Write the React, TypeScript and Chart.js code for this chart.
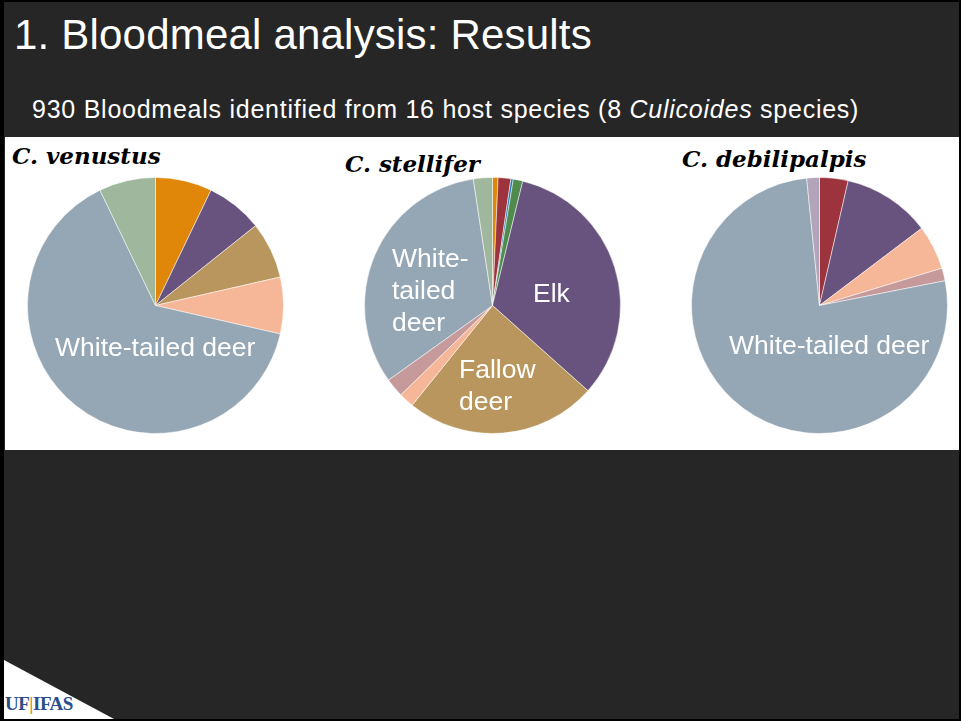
import React, { useEffect, useRef } from "react";
import { Chart, registerables } from "chart.js";

Chart.register(...registerables);

// Host colours shared by all three pies
const hostColors: Record<string, string> = {
  "Host A": "#E0870A",
  Elk: "#67537E",
  "Fallow deer": "#B9965E",
  "Host B": "#F5B797",
  "White-tailed deer": "#95A6B5",
  "Host C": "#9FB79C",
  "Host D": "#9D333C",
  "Host E": "#2A7AB8",
  "Host F": "#4F8B4D",
  "Host G": "#C69A9B",
  "Host H": "#B3A5B9",
};

// C. venustus
const venustusHosts = ["Host A", "Elk", "Fallow deer", "Host B", "White-tailed deer", "Host C"];
const venustusValues = [1, 1, 1, 1, 9, 1];

// C. stellifer
const stelliferHosts = [
  "Host A", "Host D", "Host E", "Host F", "Elk",
  "Fallow deer", "Host B", "Host G", "White-tailed deer", "Host C",
];
const stelliferValues = [0.7, 1.6, 0.3, 1.2, 32.8, 24.2, 1.9, 2.4, 32.5, 2.4];

// C. debilipalpis
const debilipalpisHosts = ["Host D", "Elk", "Host B", "Host G", "White-tailed deer", "Host H"];
const debilipalpisValues = [3.6, 11.1, 5.6, 1.6, 76.5, 1.6];

const SANS = "'Liberation Sans', Arial, sans-serif";
const SERIF = "'DejaVu Serif', serif";

type PieProps = {
  hosts: string[];
  values: number[];
  left: number;
  top: number;
  size: number;
};

function HostPie({ hosts, values, left, top, size }: PieProps) {
  const ref = useRef<HTMLCanvasElement | null>(null);

  useEffect(() => {
    if (!ref.current) return;
    const chart = new Chart(ref.current, {
      type: "pie",
      data: {
        labels: hosts,
        datasets: [
          {
            data: values,
            backgroundColor: hosts.map((h) => hostColors[h]),
            borderColor: "rgba(255,255,255,0.5)",
            borderWidth: 1,
          },
        ],
      },
      options: {
        responsive: false,
        animation: false,
        devicePixelRatio: 1,
        layout: { padding: 0 },
        plugins: {
          legend: { display: false },
          tooltip: { enabled: false },
          title: { display: false },
        },
      },
    });
    return () => chart.destroy();
  }, [hosts, values]);

  return (
    <canvas
      ref={ref}
      width={size}
      height={size}
      style={{ position: "absolute", left, top, width: size, height: size }}
    />
  );
}

const pieLabel: React.CSSProperties = {
  position: "absolute",
  color: "#ffffff",
  fontFamily: SANS,
  fontSize: 26.5,
  lineHeight: "32px",
  whiteSpace: "nowrap",
};

const speciesTitle: React.CSSProperties = {
  position: "absolute",
  color: "#000000",
  fontFamily: SERIF,
  fontWeight: "bold",
  fontStyle: "italic",
  fontSize: 23,
  lineHeight: "26px",
  whiteSpace: "nowrap",
};

export default function App() {
  return (
    <div
      style={{
        position: "fixed",
        left: 0,
        top: 0,
        width: 961,
        height: 721,
        background: "#000000",
        overflow: "hidden",
      }}
    >
      <div
        style={{
          position: "absolute",
          left: 4,
          top: 2,
          width: 955,
          height: 717,
          background: "#262626",
          overflow: "hidden",
        }}
      >
        <div
          style={{
            position: "absolute",
            left: 10,
            top: 9,
            color: "#ffffff",
            fontFamily: SANS,
            fontSize: 42,
            letterSpacing: 0.2,
            lineHeight: "48px",
            whiteSpace: "nowrap",
          }}
        >
          1. Bloodmeal analysis: Results
        </div>
        <div
          style={{
            position: "absolute",
            left: 28,
            top: 93,
            color: "#ffffff",
            fontFamily: SANS,
            fontSize: 25,
            letterSpacing: 0.75,
            lineHeight: "28px",
            whiteSpace: "nowrap",
          }}
        >
          930 Bloodmeals identified from 16 host species (8 <i>Culicoides</i> species)
        </div>

        {/* white panel holding the pies */}
        <div
          style={{
            position: "absolute",
            left: 1,
            top: 135,
            width: 954,
            height: 313,
            background: "#ffffff",
          }}
        />

        {/* logo corner */}
        <div
          style={{
            position: "absolute",
            left: 0,
            top: 658,
            width: 0,
            height: 0,
            borderLeft: "110px solid #ffffff",
            borderTop: "59px solid transparent",
          }}
        />
        <div
          style={{
            position: "absolute",
            left: 1,
            top: 692,
            fontFamily: "'Liberation Serif', serif",
            fontWeight: "bold",
            fontSize: 19,
            lineHeight: "20px",
            color: "#2A4D8C",
            whiteSpace: "nowrap",
            letterSpacing: -0.5,
          }}
        >
          UF<span style={{ color: "#E08A2C" }}>|</span>IFAS
        </div>
      </div>

      <HostPie hosts={venustusHosts} values={venustusValues} left={27} top={177} size={257} />
      <HostPie hosts={stelliferHosts} values={stelliferValues} left={364} top={177} size={257} />
      <HostPie hosts={debilipalpisHosts} values={debilipalpisValues} left={691} top={177} size={257} />

      <div style={{ ...speciesTitle, left: 12, top: 143 }}>C. venustus</div>
      <div style={{ ...speciesTitle, left: 345, top: 151 }}>C. stellifer</div>
      <div style={{ ...speciesTitle, left: 682, top: 146 }}>C. debilipalpis</div>

      <div style={{ ...pieLabel, left: 55, top: 331 }}>White-tailed deer</div>
      <div style={{ ...pieLabel, left: 392, top: 242 }}>
        White-
        <br />
        tailed
        <br />
        deer
      </div>
      <div style={{ ...pieLabel, left: 533, top: 277 }}>Elk</div>
      <div style={{ ...pieLabel, left: 459, top: 353 }}>
        Fallow
        <br />
        deer
      </div>
      <div style={{ ...pieLabel, left: 729, top: 329 }}>White-tailed deer</div>
    </div>
  );
}
